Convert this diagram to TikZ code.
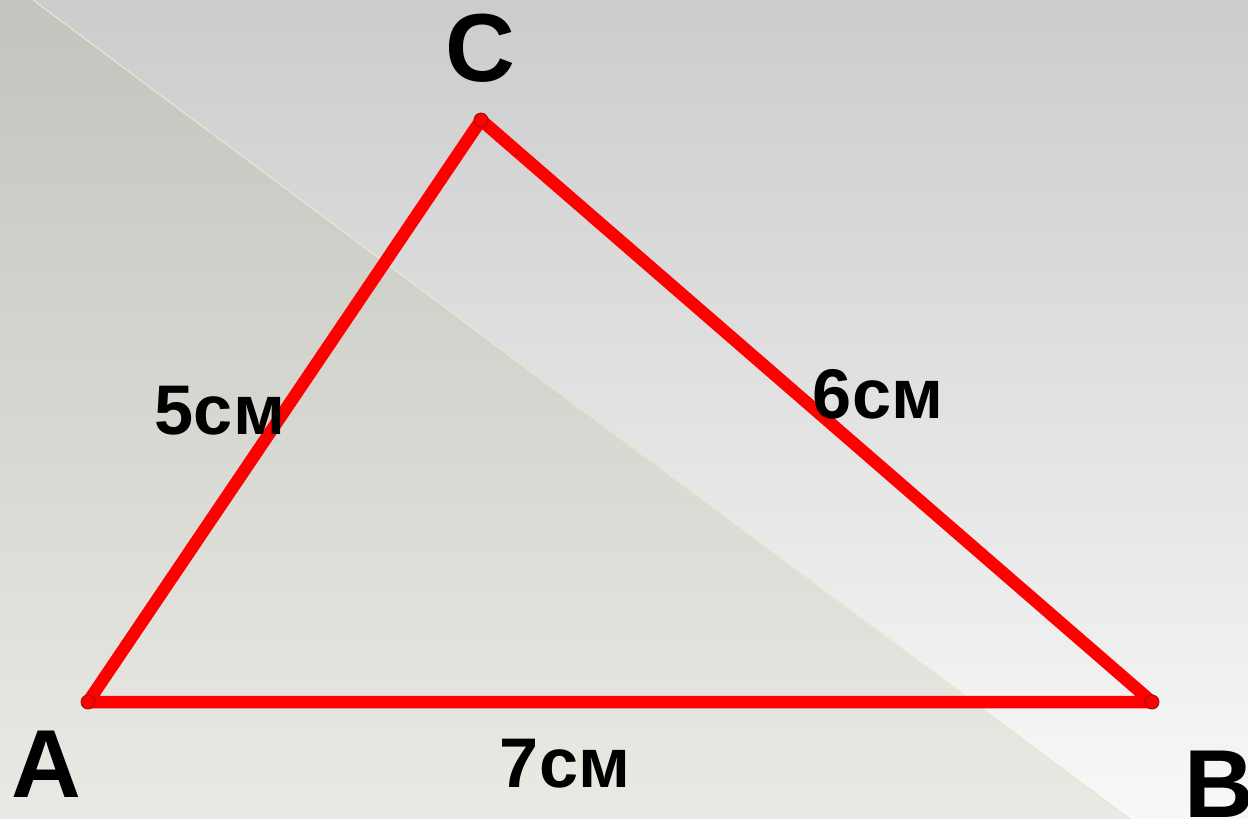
\documentclass[tikz,border=0pt]{standalone}
\usepackage{fontspec}
\setmainfont{Liberation Sans}
\usetikzlibrary{positioning}
\definecolor{bgtopL}{RGB}{196,196,191}
\definecolor{bgbotL}{RGB}{234,234,229}
\definecolor{bgtopR}{RGB}{204,204,204}
\definecolor{bgbotR}{RGB}{248,248,248}
\definecolor{seam}{RGB}{232,232,200}
\definecolor{dotedge}{RGB}{150,20,20}

\begin{document}
\begin{tikzpicture}[x=0.02cm, y=-0.02cm, font=\bfseries,
    side/.style={red, line width=0.25cm, line cap=round, line join=round},
    vertex/.style={circle, fill=red, draw=dotedge, line width=0.5pt, minimum size=0.28cm, inner sep=0pt},
    vlabel/.style={anchor=base, inner sep=0pt, font=\fontsize{55}{60}\selectfont\bfseries},
    slabel/.style={anchor=base, inner sep=0pt, font=\fontsize{40}{44}\selectfont\bfseries}]
    \useasboundingbox (0,0) rectangle (1248,819);
    % background
    \shade[top color=bgtopR, bottom color=bgbotR] (33,0) -- (1248,0) -- (1248,819) -- (1130,819) -- cycle;
    \shade[top color=bgtopL, bottom color=bgbotL] (0,0) -- (33,0) -- (1130,819) -- (0,819) -- cycle;
    \draw[seam, line width=0.6pt] (33,0) -- (1130,819);

    \coordinate (A) at (88,702);
    \coordinate (B) at (1152,702);
    \coordinate (C) at (481,120);

    \draw[side] (A) -- (B) -- (C) -- cycle;
    \node[vertex] (dA) at (A) {};
    \node[vertex] (dB) at (B) {};
    \node[vertex] (dC) at (C) {};

    \node[vlabel] (lA) at (46,797) {A};
    \node[vlabel] (lB) at (1219,817) {B};
    \node[vlabel] (lC) at (480,81) {C};

    \node[slabel] (sAC) at (220,434) {5см};
    \node[slabel] (sBC) at (878,418) {6см};
    \node[slabel] (sAB) at (565,787) {7см};
\end{tikzpicture}
\end{document}
